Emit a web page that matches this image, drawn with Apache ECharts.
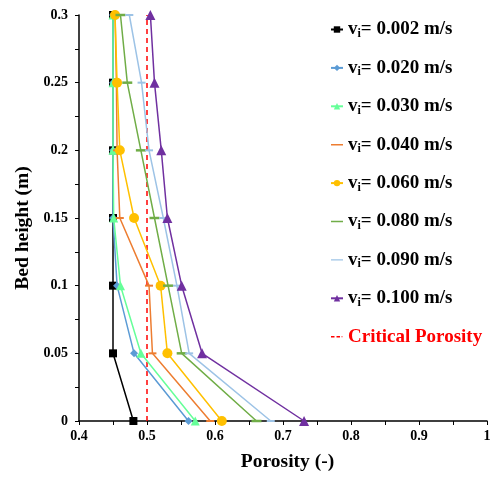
<!DOCTYPE html>
<html><head><meta charset="utf-8">
<script src="https://cdn.jsdelivr.net/npm/echarts@6/dist/echarts.min.js"></script>
<style>html,body{margin:0;padding:0;background:#fff}#c{width:494px;height:477px}</style>
</head><body><div id="c"></div>
<script>
const heights = [0, 0.05, 0.1, 0.15, 0.2, 0.25, 0.3];
const names = ['0.002','0.020','0.030','0.040','0.060','0.080','0.090','0.100'];
const v002 = [0.480, 0.450, 0.450, 0.450, 0.450, 0.450, 0.450];
const v020 = [0.561, 0.481, 0.456, 0.450, 0.450, 0.450, 0.450];
const v030 = [0.571, 0.491, 0.461, 0.451, 0.450, 0.450, 0.450];
const v040 = [0.593, 0.508, 0.503, 0.460, 0.456, 0.455, 0.453];
const v060 = [0.610, 0.530, 0.520, 0.481, 0.460, 0.456, 0.453];
const v080 = [0.661, 0.551, 0.531, 0.511, 0.491, 0.471, 0.461];
const v090 = [0.682, 0.562, 0.544, 0.524, 0.503, 0.492, 0.474];
const v100 = [0.731, 0.581, 0.551, 0.530, 0.521, 0.511, 0.505];
const criticalPorosity = 0.5;
const seriesValues = [v002, v020, v030, v040, v060, v080, v090, v100];
const colors = ['#000000','#5B9BD5','#66FF99','#ED7D31','#FFC000','#70AD47','#9DC3E6','#7030A0'];
const dash = 'path://M0,0H8V2H0Z';
const symbols = ['rect','diamond','triangle',dash,'circle',dash,dash,'triangle'];
const symSizes = [8, 8, 9, 8, 10, 10, 8, 10];
const isDash = [false,false,false,true,false,true,true,false];
// legend icon: thin horizontal bar inside an invisible 12x8 frame (tiny corner dots keep the frame)
const barIcon = 'path://M0,0H0.01V0.01H0ZM0,3.3H12V4.7H0ZM11.99,7.99H12V8H11.99Z';
const dashIcon = 'path://M0,0H0.01V0.01H0ZM0,3.3H3.5V4.7H0ZM5.5,3.3H9V4.7H5.5ZM10.5,3.5H11.5V4.5H10.5ZM11.99,7.99H12V8H11.99Z';
const font = '"Liberation Serif","Times New Roman",serif';

const series = seriesValues.map((vals, i) => ({
  name: 'v{s|i}= ' + names[i] + ' m/s',
  type: 'line',
  data: vals.map((v, j) => [v, heights[j]]),
  color: colors[i],
  symbol: symbols[i],
  symbolSize: symSizes[i],
  symbolKeepAspect: true,
  showAllSymbol: true,
  lineStyle: {width: 1.5, color: colors[i]},
  itemStyle: {color: colors[i]},
  z: 3 + i
}));
series.push({
  name: 'Critical Porosity',
  type: 'line',
  data: [[criticalPorosity, 0], [criticalPorosity, 0.3]],
  symbol: 'none',
  color: '#FF0000',
  itemStyle: {color: '#FF0000'},
  lineStyle: {width: 1.5, type: [5, 4], color: '#FF0000'},
  z: 2
});

const chart = echarts.init(document.getElementById('c'), null, {renderer: 'canvas'});
chart.setOption({
  animation: false,
  backgroundColor: '#fff',
  grid: {left: 79, right: 7, top: 15, bottom: 55, containLabel: false},
  xAxis: {
    type: 'value', min: 0.4, max: 1, interval: 0.1,
    name: 'Porosity (-)', nameLocation: 'middle', nameGap: 31,
    nameTextStyle: {fontFamily: font, fontWeight: 'bold', fontSize: 19.5, color: '#000', padding: [0, 0, 0, 9]},
    axisLine: {onZero: false, lineStyle: {color: '#000', width: 1.5}},
    axisTick: {show: true, length: 4, lineStyle: {color: '#000'}},
    minorTick: {show: true, splitNumber: 2, length: 4, lineStyle: {color: '#000'}},
    splitLine: {show: false},
    axisLabel: {fontFamily: font, fontWeight: 'bold', fontSize: 14, color: '#000', margin: 8,
      formatter: v => (Math.round(v * 10) / 10).toString()}
  },
  yAxis: {
    type: 'value', min: 0, max: 0.3, interval: 0.05,
    name: 'Bed height (m)', nameLocation: 'middle', nameGap: 35, nameRotate: 90,
    nameTextStyle: {fontFamily: font, fontWeight: 'bold', fontSize: 19.5, color: '#000', padding: [0, 20, 0, 0]},
    axisLine: {onZero: false, lineStyle: {color: '#000', width: 1.5}},
    axisTick: {show: true, length: 4, lineStyle: {color: '#000'}},
    minorTick: {show: true, splitNumber: 2, length: 4, lineStyle: {color: '#000'}},
    splitLine: {show: false},
    axisLabel: {fontFamily: font, fontWeight: 'bold', fontSize: 14, color: '#000', margin: 11,
      formatter: v => (Math.round(v * 100) / 100).toString()}
  },
  legend: {
    orient: 'vertical', left: 325, top: 15,
    itemWidth: 12, itemHeight: 8, itemGap: 18.4,
    textStyle: {fontFamily: font, fontWeight: 'bold', fontSize: 19, color: '#000',
      rich: {s: {fontFamily: font, fontWeight: 'bold', fontSize: 12, color: '#000', verticalAlign: 'bottom', padding: [9,0,0,0]}}},
    data: series.map((s, i) => i === 8
      ? {name: s.name, icon: dashIcon, itemStyle: {color: '#FF0000'}, textStyle: {color: '#FF0000'}}
      : (isDash[i] ? {name: s.name, icon: barIcon} : {name: s.name}))
  },
  series: series
});
</script></body></html>
